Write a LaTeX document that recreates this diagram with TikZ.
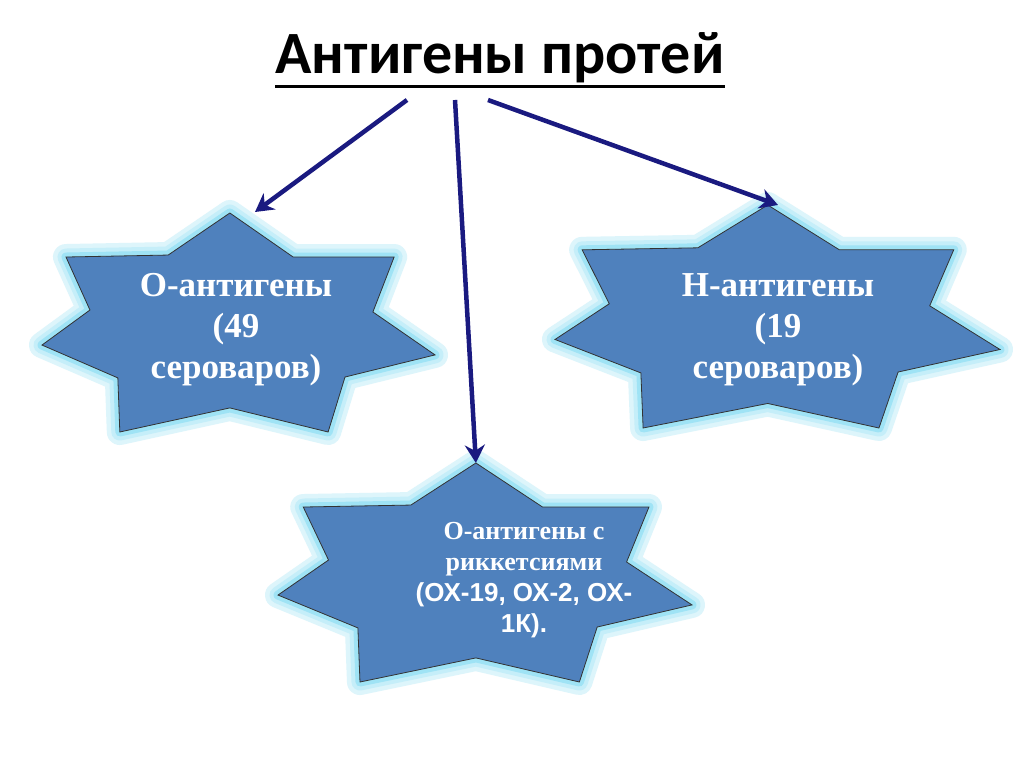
\documentclass[tikz,border=0pt]{standalone}
\usepackage{fontspec}
\setmainfont{Liberation Serif}
\newfontfamily\titlefont{Carlito}
\newfontfamily\sansb{Liberation Sans}
\usetikzlibrary{arrows.meta,calc}
\definecolor{starfill}{HTML}{4F81BD}
\definecolor{navy}{HTML}{1A1A80}
\definecolor{glow}{HTML}{9FE3F5}
\tikzset{
  arr/.style={draw=navy,line width=4.5pt,-{Stealth[length=18pt,width=20pt]}},
  startxt/.style={text=white,font=\bfseries,align=center}
}
% #1 name, #2 x0, #3 y0, #4 width, #5 height
\newcommand{\mystar}[5]{%
  \begin{scope}[shift={(#2,#3)},x=#4pt,y=-#5pt]
    \def\pts{(0.478,0) -- (0.639,0.201) -- (0.896,0.201) -- (0.842,0.452) -- (1,0.648) -- (0.771,0.749) -- (0.728,1) -- (0.478,0.890) -- (0.198,1) -- (0.193,0.753) -- (0,0.603) -- (0.122,0.443) -- (0.061,0.201) -- (0.321,0.192) -- cycle}
    \draw[glow!35,line width=26pt,line join=round] \pts;
    \draw[glow!60,line width=17pt,line join=round] \pts;
    \draw[glow,line width=9pt,line join=round] \pts;
    \filldraw[fill=starfill,draw=black!80,line width=0.8pt] \pts;
    \coordinate (#1top) at (0.478,0);
  \end{scope}}
\begin{document}
\begin{tikzpicture}[x=1pt,y=-1pt]
\fill[white] (0,0) rectangle (1024,767);
\useasboundingbox (0,0) rectangle (1024,767);
\mystar{L}{42}{213}{393}{219}
\mystar{R}{555}{205}{445}{223}
\mystar{B}{278}{463}{414}{219}
\node[startxt,font=\bfseries\fontsize{35}{41}\selectfont] (lt) at (236,330) {О-антигены\\(49\\сероваров)};
\node[startxt,font=\bfseries\fontsize{35}{41}\selectfont] (rt) at (778,330) {Н-антигены\\(19\\сероваров)};
\node[startxt,font=\bfseries\fontsize{26}{31}\selectfont] (bt) at (524,580) {О-антигены с\\риккетсиями\\{\sansb (ОХ-19, ОХ-2, ОХ-}\\{\sansb 1К).}};
\node[font=\titlefont\bfseries\fontsize{60}{64}\selectfont,inner sep=0pt] (title) at (500,58) {Антигены протей};
\draw[line width=3pt] ($(title.south west)+(0,3)$) -- ($(title.south east)+(0,3)$);
\coordinate (a1) at (407,100);
\coordinate (a2) at (455,100);
\coordinate (a3) at (488,100);
\coordinate (e1) at (255,212);
\coordinate (e3) at (778,205);
\draw[arr] (a1) -- (e1);
\draw[arr] (a2) -- (Btop);
\draw[arr] (a3) -- (e3);
\end{tikzpicture}
\end{document}
